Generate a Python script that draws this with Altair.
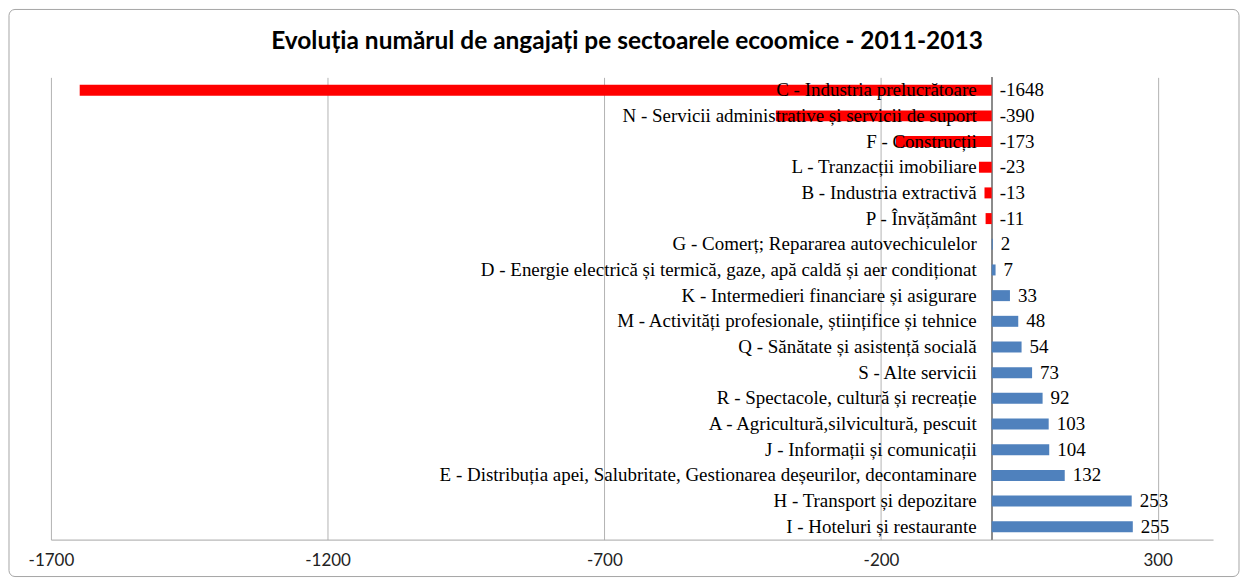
import altair as alt
import pandas as pd

sectors = [
    "C - Industria prelucrătoare",
    "N - Servicii administrative și servicii de suport",
    "F - Construcții",
    "L - Tranzacții imobiliare",
    "B - Industria extractivă",
    "P - Învățământ",
    "G - Comerț; Repararea autovechiculelor",
    "D - Energie electrică și termică, gaze, apă caldă și aer condiționat",
    "K - Intermedieri financiare și asigurare",
    "M - Activități profesionale, științifice și tehnice",
    "Q - Sănătate și asistență socială",
    "S - Alte servicii",
    "R - Spectacole, cultură și recreație",
    "A - Agricultură,silvicultură, pescuit",
    "J - Informații și comunicații",
    "E - Distribuția apei, Salubritate, Gestionarea deșeurilor, decontaminare",
    "H - Transport și depozitare",
    "I - Hoteluri și restaurante",
]
changes = [-1648, -390, -173, -23, -13, -11, 2, 7, 33, 48, 54, 73, 92, 103, 104, 132, 253, 255]
tick_values = [-1700, -1200, -700, -200, 300]
x_domain = [-1700, 400]
title_text = "Evoluția numărul de angajați pe sectoarele ecoomice - 2011-2013"

df = pd.DataFrame({"sector": sectors, "value": changes})
df["sign"] = ["neg" if v < 0 else "pos" for v in changes]
df["label_x"] = df["value"].clip(lower=0)
df["label"] = df["value"].astype(str)

W, H = 1164, 463

x_scale = alt.Scale(domain=x_domain, nice=False, zero=False)
y_enc = alt.Y("sector:N", sort=sectors, axis=None,
              scale=alt.Scale(paddingInner=0.5))

one = pd.DataFrame({"t": [title_text]})

frame = alt.Chart(one).mark_rect(
    fillOpacity=0, stroke="#A6A6A6", strokeWidth=1, cornerRadius=6
).encode(x=alt.value(-42), x2=alt.value(1190), y=alt.value(-68), y2=alt.value(500))

title = alt.Chart(one).mark_text(
    font="Lato", fontSize=24.5, fontWeight="bold", color="black",
    align="center", baseline="alphabetic"
).encode(x=alt.value(577), y=alt.value(-28), text="t:N")

base = alt.Chart(df)

bars = base.mark_bar(size=11).encode(
    x=alt.X("value:Q", scale=x_scale,
            axis=alt.Axis(values=tick_values, title=None, grid=True,
                          gridColor="#B3B3B3", gridWidth=1, ticks=False,
                          domainColor="#A6A6A6", labelFont="Lato",
                          labelFontSize=17, labelColor="#222222",
                          labelFlush=False, labelPadding=13,
                          labelExpr="'' + datum.value")),
    y=y_enc,
    color=alt.Color("sign:N", scale=alt.Scale(domain=["neg", "pos"],
                                              range=["#FF0000", "#4F81BD"]),
                    legend=None),
)

zero_rule = base.mark_rule(color="#8C8C8C", strokeWidth=1).encode(x=alt.datum(0))

cat_text = base.mark_text(align="right", baseline="middle", dx=-15,
                          font="Liberation Serif", fontSize=19,
                          color="black").encode(
    x=alt.datum(0), y=y_enc, text="sector:N")

val_text = base.mark_text(align="left", baseline="middle", dx=8,
                          font="Liberation Serif", fontSize=19,
                          color="black").encode(
    x=alt.X("label_x:Q"), y=y_enc, text="label:N")

chart = alt.layer(frame, title, zero_rule, bars, cat_text, val_text).properties(
    width=W, height=H, padding=0,
).configure_view(stroke=None)

chart.save("out.html", embed_options={"renderer": "svg", "actions": False})
